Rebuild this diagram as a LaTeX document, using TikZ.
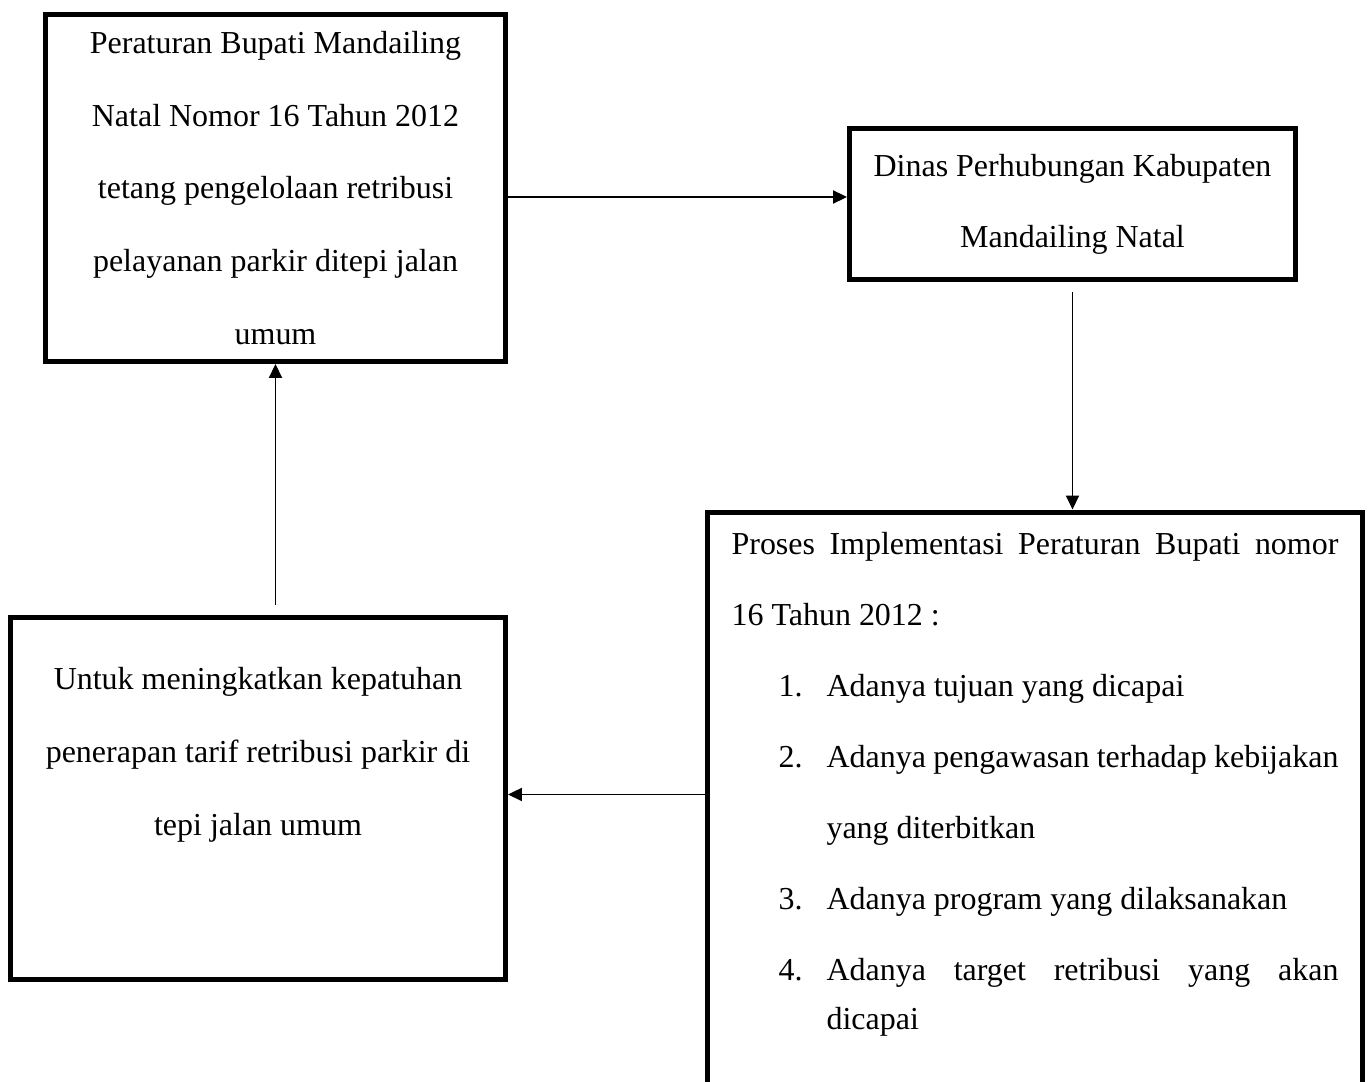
\documentclass[tikz,border=0pt]{standalone}
\usepackage{fontspec}
\setmainfont{Liberation Serif}
\usetikzlibrary{arrows.meta}
\begin{document}
\begin{tikzpicture}[x=0.02cm, y=-0.02cm, >={Triangle[length=2.8mm,width=2.6mm]},
  kotak/.style={draw, line width=2.85pt, align=center, font=\fontsize{18.2pt}{41.5pt}\selectfont},
  panah/.style={->, line width=1.1pt}]
\useasboundingbox (0,0) rectangle (1371,1081);
% Peraturan Bupati
\node[kotak, minimum width=9.2cm, minimum height=6.94cm] (perbup) at (275.5,188)
  {Peraturan Bupati Mandailing\\ Natal Nomor 16 Tahun 2012\\ tetang pengelolaan retribusi\\ pelayanan parkir ditepi jalan\\ umum};
% Dinas Perhubungan
\node[kotak, minimum width=8.92cm, minimum height=3.02cm, font=\fontsize{18.2pt}{40.4pt}\selectfont] (dishub) at (1072.5,204)
  {Dinas Perhubungan Kabupaten\\ Mandailing Natal};
% Proses implementasi
\node[kotak, anchor=north, inner xsep=0.48cm, inner ysep=0.41cm, font=\fontsize{18.2pt}{40.4pt}\selectfont] (proses) at (1035,509.5)
  {\parbox[t][11.8cm][t]{12.14cm}{%
    \makebox[\linewidth][s]{Proses Implementasi Peraturan Bupati nomor}\\
    16 Tahun 2012 :\\
    \hspace*{0.94cm}\makebox[0.96cm][l]{1.}Adanya tujuan yang dicapai\\
    \makebox[\linewidth][s]{\hspace*{0.94cm}\makebox[0.96cm][l]{2.}Adanya pengawasan terhadap kebijakan}\\
    \hspace*{1.9cm}yang diterbitkan\\
    \hspace*{0.94cm}\makebox[0.96cm][l]{3.}Adanya program yang dilaksanakan\\
    \makebox[\linewidth][s]{\hspace*{0.94cm}\makebox[0.96cm][l]{4.}Adanya target retribusi yang akan}\\[-0.44cm]
    \hspace*{1.9cm}dicapai}};
% Tujuan
\node[kotak, anchor=north, inner xsep=0.3cm, inner ysep=1.01cm] (tarif) at (258,614.5)
  {\parbox[t][5.24cm][t]{9.3cm}{\centering Untuk meningkatkan kepatuhan\\ penerapan tarif retribusi parkir di\\ tepi jalan umum}};
% Alur
\draw[panah] ([yshift=-0.18cm]perbup.east) -- ([yshift=0.14cm]dishub.west);
\draw[panah, shorten <=0.21cm] (dishub.south) -- (dishub.south |- proses.north);
\draw[panah] ([yshift=0.08cm]proses.west |- tarif.east) -- ([yshift=0.08cm]tarif.east);
\draw[panah, shorten <=0.19cm] (perbup.south |- tarif.north) -- (perbup.south);
\end{tikzpicture}
\end{document}
